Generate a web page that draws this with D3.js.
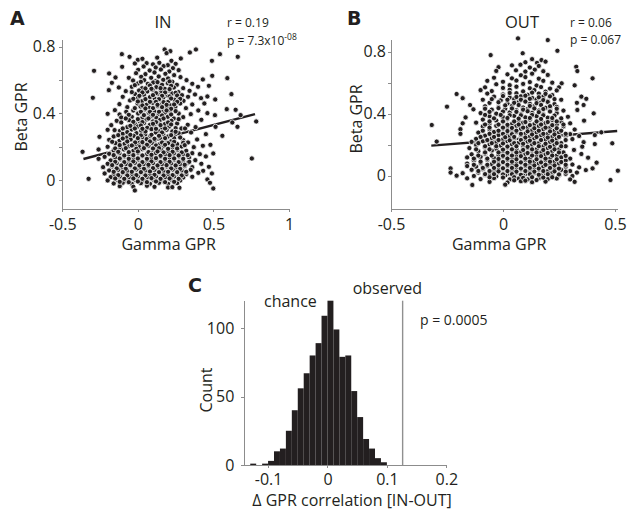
<!DOCTYPE html>
<html>
<head>
<meta charset="utf-8">
<script src="https://cdn.jsdelivr.net/npm/d3@7"></script>
<style>
  body { margin: 0; background: #fff; }
  text { font-family: "Open Sans", "Noto Sans", sans-serif; fill: #231f20; }
  .axis path, .axis line { stroke: #8c8c8c; stroke-width: 1; shape-rendering: crispEdges; }
  .axis text { font-size: 16px; }
</style>
</head>
<body>
<svg id="chart" width="627" height="511"></svg>
<script>
// gamma GPR vs beta GPR, attention IN
const inPoints = [
  [0.177,0.784],[0.215,0.774],[0.384,0.784],[0.344,0.766],[0.19,0.762],[-0.106,0.756],[0.543,0.756],[-0.055,0.74],[0.661,0.74],[0.128,0.735],[0.284,0.73],[0.49,0.716],[0.0,0.722],[0.03,0.728],[0.222,0.716],
  [-0.02,0.7],[0.058,0.702],[0.1,0.695],[0.142,0.704],[0.198,0.69],[0.25,0.698],
  [-0.104,0.68],[0.038,0.682],[0.118,0.676],[0.17,0.684],[0.232,0.672],
  [-0.29,0.656],[0.002,0.662],[0.078,0.658],[0.152,0.664],[0.208,0.652],[0.27,0.66],
  [-0.19,0.64],[-0.012,0.642],[0.05,0.636],[0.11,0.646],[0.182,0.638],[0.24,0.63],
  [-0.148,0.616],[-0.06,0.614],[0.022,0.62],[0.088,0.614],[0.138,0.622],[0.2,0.61],[0.282,0.618],[0.492,0.626],[0.592,0.612],
  [-0.032,0.598],[0.042,0.6],[0.118,0.594],[0.168,0.602],[0.228,0.59],[0.322,0.6],[0.43,0.604],
  [-0.172,0.584],[0.0,0.58],[0.066,0.578],[0.102,0.586],[0.148,0.574],[0.198,0.582],[0.258,0.572],[0.36,0.578],
  [-0.126,0.556],[-0.04,0.56],[0.028,0.552],[0.122,0.558],[0.178,0.548],[0.238,0.556],[0.3,0.552],[0.398,0.56],[0.47,0.566],
  [-0.192,0.54],[-0.08,0.534],[0.008,0.538],[0.062,0.532],[0.098,0.542],[0.152,0.53],[0.208,0.538],[0.268,0.528],[0.342,0.536],
  [-0.018,0.516],[0.04,0.512],[0.13,0.518],[0.186,0.508],[0.228,0.52],[0.292,0.51],[0.378,0.514],[0.619,0.516],
  [-0.298,0.494],[-0.1,0.5],[0.0,0.494],[0.08,0.498],[0.112,0.488],[0.168,0.496],[0.258,0.49],[0.332,0.5],[0.418,0.492],[0.46,0.502],
  [-0.052,0.478],[0.028,0.474],[0.142,0.48],[0.2,0.47],[0.242,0.482],[0.302,0.476],[0.512,0.484],
  [-0.122,0.456],[-0.002,0.46],[0.058,0.452],[0.098,0.464],[0.16,0.456],[0.218,0.448],[0.28,0.46],[0.36,0.454],[0.44,0.46],
  [-0.07,0.438],[0.018,0.442],[0.078,0.434],[0.128,0.444],[0.19,0.436],[0.248,0.44],[0.318,0.432],
  [-0.152,0.42],[-0.03,0.418],[0.048,0.424],[0.108,0.414],[0.162,0.422],[0.212,0.412],[0.4,0.418],[0.588,0.426],[0.647,0.422],
  [-0.2,0.398],[-0.121,0.394],[-0.077,0.41],[0.002,0.4],[0.072,0.404],[0.138,0.396],[0.182,0.406],[0.27,0.4],[0.35,0.396],[0.46,0.402],[0.51,0.39],[0.68,0.39],
  [-0.11,0.376],[-0.04,0.38],[0.028,0.372],[0.088,0.384],[0.122,0.374],[0.198,0.38],[0.238,0.37],[0.3,0.378],
  [-0.14,0.356],[-0.058,0.36],[0.012,0.354],[0.058,0.364],[0.1,0.352],[0.148,0.362],[0.222,0.356],[0.42,0.362],[0.625,0.346],[0.783,0.352],
  [-0.176,0.33],[-0.11,0.346],[-0.02,0.338],[0.04,0.342],[0.08,0.332],[0.13,0.344],[0.178,0.336],[0.26,0.34],[0.33,0.332],
  [-0.154,0.3],[-0.07,0.318],[0.0,0.322],[0.062,0.314],[0.108,0.326],[0.158,0.316],[0.208,0.322],[0.25,0.312],[0.288,0.31],[0.382,0.318],[0.514,0.32],[0.659,0.32],
  [-0.2,0.302],[-0.118,0.296],[-0.04,0.304],[0.022,0.296],[0.09,0.306],[0.138,0.294],[0.19,0.302],[0.228,0.292],[0.312,0.31],
  [-0.1,0.278],[-0.01,0.282],[0.048,0.274],[0.118,0.286],[0.168,0.276],[0.27,0.282],[0.352,0.286],[0.45,0.276],
  [-0.254,0.26],[-0.16,0.262],[-0.072,0.256],[-0.028,0.266],[0.03,0.258],[0.082,0.264],[0.148,0.254],[0.2,0.262],[0.24,0.252],[0.559,0.266],
  [-0.19,0.242],[-0.122,0.236],[-0.048,0.244],[0.0,0.236],[0.058,0.246],[0.11,0.238],[0.178,0.244],[0.218,0.232],[0.3,0.24],[0.392,0.244],
  [-0.148,0.222],[-0.088,0.218],[-0.018,0.226],[0.04,0.216],[0.092,0.224],[0.142,0.214],[0.2,0.222],[0.26,0.216],[0.332,0.226],[0.48,0.212],
  [-0.2,0.2],[-0.118,0.196],[-0.058,0.204],[0.01,0.198],[0.07,0.206],[0.12,0.194],[0.17,0.204],[0.228,0.196],[0.29,0.202],[0.37,0.198],[0.43,0.206],
  [-0.26,0.184],[-0.16,0.178],[-0.092,0.184],[-0.03,0.176],[0.03,0.186],[0.1,0.178],[0.152,0.184],[0.2,0.174],[0.262,0.182],[0.32,0.176],[0.499,0.16],
  [-0.366,0.17],
  [-0.19,0.158],[-0.122,0.162],[-0.06,0.154],[0.0,0.164],[0.06,0.156],[0.118,0.162],[0.18,0.152],[0.238,0.16],[0.298,0.154],[0.36,0.162],[0.41,0.156],
  [-0.22,0.14],[-0.15,0.136],[-0.088,0.142],[-0.028,0.134],[0.032,0.144],[0.09,0.136],[0.15,0.142],[0.21,0.134],[0.272,0.142],[0.338,0.136],[0.45,0.142],
  [-0.26,0.128],[0.754,0.13],
  [-0.18,0.118],[-0.118,0.124],[-0.06,0.116],[0.002,0.122],[0.06,0.114],[0.12,0.124],[0.18,0.116],[0.24,0.122],[0.3,0.114],[0.38,0.12],
  [-0.2,0.098],[-0.14,0.102],[-0.078,0.096],[-0.02,0.104],[0.04,0.096],[0.1,0.102],[0.16,0.094],[0.22,0.1],[0.28,0.096],[0.33,0.104],[0.42,0.098],
  [-0.23,0.078],[-0.17,0.082],[-0.108,0.076],[-0.048,0.084],[0.01,0.076],[0.07,0.084],[0.13,0.078],[0.19,0.082],[0.25,0.076],[0.31,0.084],[0.36,0.078],[0.47,0.08],
  [-0.19,0.058],[-0.13,0.062],[-0.07,0.056],[-0.01,0.064],[0.05,0.058],[0.11,0.062],[0.17,0.056],[0.23,0.064],[0.29,0.058],[0.35,0.062],[0.432,0.056],
  [-0.22,0.04],[-0.16,0.036],[-0.1,0.042],[-0.04,0.034],[0.02,0.042],[0.08,0.036],[0.14,0.042],[0.2,0.034],[0.26,0.04],[0.32,0.036],[0.4,0.044],[0.49,0.04],
  [-0.18,0.018],[-0.12,0.022],[-0.06,0.016],[0.0,0.022],[0.06,0.016],[0.12,0.022],[0.18,0.016],[0.24,0.022],[0.3,0.016],[0.36,0.02],
  [-0.326,0.008],[-0.2,-0.002],[-0.14,0.002],[-0.08,-0.004],[-0.02,0.002],[0.04,-0.002],[0.1,0.004],[0.16,-0.004],[0.22,0.002],[0.28,-0.002],[0.46,0.004],
  [-0.16,-0.02],[-0.1,-0.016],[-0.04,-0.022],[0.02,-0.018],[0.08,-0.022],[0.14,-0.016],[0.2,-0.022],[0.26,-0.018],[0.477,-0.016],
  [-0.12,-0.036],[-0.03,-0.04],[0.06,-0.034],[0.11,-0.04],[0.2,-0.044],[0.228,-0.042],[0.275,-0.046],[0.499,-0.05],
  [-0.02,-0.062],
  // packed core, lower lobe
  [-0.07,0.288],[0.05,0.292],[0.16,0.286],[0.25,0.29],
  [-0.13,0.27],[-0.05,0.272],[0.02,0.268],[0.09,0.272],[0.14,0.266],[0.22,0.27],
  [-0.1,0.25],[0.0,0.252],[0.11,0.248],[0.18,0.252],[0.28,0.256],
  [-0.17,0.23],[-0.07,0.232],[0.03,0.228],[0.08,0.232],[0.16,0.226],[0.24,0.23],[0.3,0.224],
  [-0.12,0.21],[-0.04,0.208],[0.06,0.212],[0.12,0.208],[0.18,0.212],[0.23,0.208],[0.31,0.21],
  [-0.15,0.19],[-0.08,0.192],[-0.01,0.188],[0.04,0.192],[0.1,0.19],[0.14,0.192],[0.2,0.188],[0.26,0.19],
  [-0.13,0.17],[-0.06,0.168],[0.0,0.172],[0.07,0.168],[0.13,0.172],[0.17,0.166],[0.23,0.17],[0.29,0.166],
  [-0.16,0.15],[-0.09,0.148],[-0.03,0.15],[0.03,0.148],[0.09,0.152],[0.15,0.146],[0.21,0.15],[0.27,0.148],[0.33,0.15],
  [-0.12,0.13],[-0.06,0.128],[0.0,0.13],[0.06,0.128],[0.12,0.132],[0.18,0.128],[0.24,0.13],[0.3,0.128],
  [-0.15,0.11],[-0.09,0.108],[-0.03,0.112],[0.03,0.108],[0.09,0.112],[0.15,0.108],[0.21,0.11],[0.27,0.108],[0.34,0.11],
  [-0.17,0.09],[-0.11,0.088],[-0.05,0.09],[0.01,0.088],[0.07,0.092],[0.13,0.088],[0.19,0.09],[0.25,0.088],[0.31,0.092],
  [-0.14,0.07],[-0.08,0.068],[-0.02,0.07],[0.04,0.068],[0.1,0.072],[0.16,0.068],[0.22,0.07],[0.28,0.068],
  [-0.16,0.05],[-0.1,0.048],[-0.04,0.05],[0.02,0.048],[0.08,0.052],[0.14,0.048],[0.2,0.05],[0.26,0.048],[0.32,0.05],
  [-0.13,0.03],[-0.07,0.028],[-0.01,0.03],[0.05,0.028],[0.11,0.032],[0.17,0.028],[0.23,0.03],[0.29,0.028],
  [-0.15,0.01],[-0.09,0.008],[-0.03,0.01],[0.03,0.008],[0.09,0.012],[0.15,0.008],[0.21,0.01],[0.27,0.008],
  [-0.12,-0.01],[-0.06,-0.012],[0.0,-0.008],[0.06,-0.012],[0.12,-0.008],[0.18,-0.012],[0.24,-0.01],
  // packed core, upper lobe
  [0.02,0.59],[0.13,0.588],[0.21,0.592],
  [-0.02,0.57],[0.08,0.568],[0.16,0.572],[0.22,0.566],
  [0.05,0.55],[0.09,0.548],[0.15,0.552],[0.21,0.546],
  [-0.04,0.528],[0.03,0.526],[0.12,0.522],[0.18,0.526],[0.25,0.524],
  [0.01,0.506],[0.1,0.51],[0.16,0.506],[0.21,0.502],[0.26,0.508],
  [-0.03,0.488],[0.05,0.486],[0.14,0.486],[0.22,0.49],[0.28,0.488],
  [0.0,0.472],[0.08,0.47],[0.12,0.47],[0.17,0.468],[0.26,0.47],
  [0.03,0.448],[0.13,0.452],[0.19,0.452],[0.24,0.454],
  [-0.02,0.432],[0.05,0.43],[0.1,0.432],[0.16,0.438],[0.22,0.428],
  [0.02,0.41],[0.08,0.41],[0.14,0.41],[0.19,0.418],[0.25,0.414],
  [-0.06,0.392],[0.04,0.39],[0.1,0.392],[0.16,0.388],[0.22,0.394],
  [-0.08,0.37],[0.0,0.366],[0.07,0.37],[0.17,0.37],[0.27,0.366],
  [-0.03,0.35],[0.03,0.348],[0.12,0.348],[0.2,0.346],
  [-0.05,0.326],[0.02,0.328],[0.1,0.338],[0.15,0.33],[0.22,0.334],
  [-0.1,0.31],[-0.02,0.31],[0.03,0.308],[0.12,0.308],[0.18,0.31]
]

// gamma GPR vs beta GPR, attention OUT
const outPoints = [
  [0.067,0.886],[0.2,0.875],[0.243,0.806],[0.088,0.79],[-0.055,0.778],
  [0.13,0.752],[0.172,0.746],[0.1,0.732],[0.152,0.728],[0.19,0.736],
  [0.04,0.712],[0.078,0.716],[0.16,0.708],[0.327,0.703],[-0.02,0.7],[0.12,0.698],
  [0.332,0.675],[-0.03,0.676],[0.058,0.68],[0.1,0.672],[0.142,0.684],[0.18,0.674],
  [0.02,0.654],[0.08,0.648],[0.13,0.658],[0.2,0.65],
  [-0.04,0.632],[0.04,0.628],[0.1,0.636],[0.16,0.626],[0.4,0.628],
  [-0.07,0.612],[0.0,0.606],[0.06,0.614],[0.12,0.604],[0.18,0.612],[0.22,0.6],
  [-0.03,0.59],[0.03,0.584],[0.09,0.592],[0.15,0.582],[0.32,0.583],[0.262,0.596],
  [-0.08,0.57],[0.0,0.566],[0.06,0.574],[0.12,0.564],[0.17,0.572],[0.21,0.562],[0.25,0.57],
  [-0.1,0.552],[-0.05,0.546],[0.03,0.554],[0.09,0.544],[0.14,0.552],[0.19,0.542],[0.24,0.55],
  [-0.207,0.527],[-0.07,0.53],[0.0,0.524],[0.06,0.532],[0.11,0.522],[0.16,0.53],[0.22,0.52],
  [-0.04,0.51],[0.03,0.504],[0.08,0.512],[0.13,0.502],[0.18,0.51],[0.35,0.51],[0.372,0.496],
  [-0.18,0.5],
  [-0.09,0.49],[-0.01,0.486],[0.05,0.494],[0.1,0.484],[0.15,0.492],[0.2,0.482],[0.26,0.49],
  [-0.06,0.47],[0.02,0.466],[0.07,0.474],[0.12,0.464],[0.17,0.472],[0.23,0.462],[0.33,0.47],
  [-0.147,0.456],[0.36,0.456],
  [-0.25,0.445],[-0.08,0.448],[-0.02,0.442],[0.04,0.45],[0.09,0.44],[0.14,0.448],[0.19,0.438],[0.24,0.444],
  [-0.132,0.428],[-0.05,0.426],[0.01,0.432],[0.06,0.422],[0.11,0.43],[0.16,0.42],[0.21,0.428],[0.27,0.42],[0.332,0.424],
  [-0.1,0.404],[-0.03,0.4],[0.03,0.408],[0.08,0.398],[0.13,0.406],[0.18,0.396],[0.24,0.404],[0.405,0.402],
  [-0.167,0.376],[-0.06,0.384],[0.0,0.378],[0.05,0.386],[0.1,0.376],[0.15,0.384],[0.2,0.374],[0.29,0.38],
  [-0.09,0.362],[-0.03,0.356],[0.02,0.364],[0.07,0.354],[0.12,0.362],[0.17,0.352],[0.22,0.36],[0.26,0.35],[0.362,0.355],
  [-0.18,0.338],[-0.12,0.342],[-0.06,0.336],[0.0,0.344],[0.04,0.334],[0.09,0.342],[0.14,0.332],[0.19,0.34],[0.24,0.33],[0.3,0.338],
  [-0.318,0.327],
  [-0.09,0.318],[-0.03,0.322],[0.02,0.314],[0.06,0.322],[0.11,0.312],[0.16,0.32],[0.21,0.31],[0.27,0.318],
  [-0.19,0.3],[-0.06,0.298],[0.0,0.304],[0.04,0.294],[0.08,0.302],[0.13,0.292],[0.18,0.3],[0.23,0.29],[0.32,0.298],
  [-0.11,0.278],[-0.04,0.282],[0.02,0.274],[0.06,0.282],[0.1,0.272],[0.15,0.28],[0.2,0.27],[0.25,0.278],[0.3,0.268],[0.439,0.28],
  [-0.19,0.27],
  [-0.08,0.258],[-0.02,0.262],[0.03,0.254],[0.08,0.262],[0.12,0.252],[0.17,0.26],[0.22,0.25],[0.28,0.258],[0.34,0.256],[0.41,0.262],
  [-0.12,0.238],[-0.05,0.242],[0.0,0.234],[0.05,0.242],[0.1,0.232],[0.14,0.24],[0.19,0.23],[0.24,0.238],[0.31,0.236],
  [-0.296,0.22],[-0.14,0.218],[-0.09,0.222],[-0.03,0.214],[0.02,0.222],[0.07,0.212],[0.11,0.22],[0.16,0.21],[0.21,0.218],[0.26,0.21],[0.36,0.216],
  [-0.12,0.198],[-0.06,0.202],[-0.01,0.194],[0.04,0.202],[0.09,0.192],[0.13,0.2],[0.18,0.19],[0.23,0.198],[0.28,0.19],[0.41,0.204],[0.488,0.209],
  [-0.15,0.178],[-0.08,0.182],[-0.03,0.174],[0.02,0.182],[0.06,0.172],[0.11,0.18],[0.15,0.17],[0.2,0.178],[0.25,0.17],[0.354,0.187],
  [-0.11,0.158],[-0.05,0.162],[0.0,0.154],[0.04,0.162],[0.08,0.152],[0.13,0.16],[0.17,0.15],[0.22,0.158],[0.27,0.15],[0.317,0.166],
  [-0.14,0.138],[-0.08,0.142],[-0.02,0.134],[0.02,0.142],[0.06,0.132],[0.1,0.14],[0.15,0.13],[0.19,0.138],[0.24,0.13],[0.35,0.14],
  [-0.16,0.118],[-0.1,0.122],[-0.04,0.114],[0.0,0.122],[0.04,0.112],[0.08,0.12],[0.12,0.11],[0.17,0.118],[0.21,0.11],[0.26,0.118],[0.3,0.11],[0.38,0.116],
  [-0.13,0.098],[-0.07,0.102],[-0.02,0.094],[0.02,0.102],[0.06,0.092],[0.1,0.1],[0.14,0.09],[0.19,0.098],[0.23,0.09],[0.28,0.098],
  [-0.16,0.078],[-0.1,0.082],[-0.05,0.074],[0.0,0.082],[0.04,0.072],[0.08,0.08],[0.12,0.07],[0.16,0.078],[0.21,0.07],[0.25,0.078],[0.31,0.072],[0.418,0.084],
  [-0.12,0.058],[-0.07,0.062],[-0.02,0.054],[0.02,0.062],[0.06,0.052],[0.1,0.06],[0.14,0.05],[0.18,0.058],[0.23,0.05],[0.28,0.058],[0.34,0.054],
  [-0.234,0.047],[-0.16,0.062],[0.4,0.047],
  [-0.14,0.038],[-0.09,0.042],[-0.04,0.034],[0.0,0.042],[0.04,0.032],[0.08,0.04],[0.12,0.03],[0.16,0.038],[0.2,0.03],[0.26,0.038],[0.3,0.03],[0.37,0.036],[0.513,0.032],
  [-0.234,0.02],[-0.18,0.016],[-0.11,0.02],[-0.06,0.014],[-0.02,0.022],[0.02,0.012],[0.06,0.02],[0.1,0.01],[0.14,0.018],[0.18,0.01],[0.22,0.018],[0.28,0.012],[0.33,0.02],
  [-0.207,0.0],[-0.13,-0.002],[-0.08,0.004],[-0.03,-0.004],[0.01,0.002],[0.05,-0.006],[0.09,0.002],[0.13,-0.004],[0.17,0.004],[0.21,-0.004],[0.25,0.002],[0.31,-0.002],
  [-0.16,-0.017],[-0.1,-0.022],[-0.04,-0.016],[0.03,-0.024],[0.07,-0.018],[0.11,-0.024],[0.16,-0.016],[0.2,-0.022],[0.24,-0.018],[0.3,-0.024],[0.48,-0.028],
  [-0.06,-0.04],[0.02,-0.044],[0.08,-0.036],[0.13,-0.042],[0.19,-0.038],[0.32,-0.04],
  [-0.137,-0.06],[0.01,-0.058],
  // packed core
  [0.03,0.534],[0.13,0.536],[0.19,0.528],
  [0.0,0.514],[0.06,0.508],[0.1,0.516],[0.16,0.506],[0.21,0.512],
  [-0.05,0.494],[0.02,0.49],[0.08,0.49],[0.12,0.496],[0.18,0.488],[0.23,0.494],
  [-0.02,0.474],[0.05,0.47],[0.1,0.478],[0.15,0.468],[0.2,0.476],
  [0.01,0.454],[0.07,0.456],[0.12,0.45],[0.17,0.456],[0.21,0.448],
  [-0.08,0.432],[-0.02,0.436],[0.04,0.434],[0.09,0.426],[0.14,0.434],[0.18,0.43],[0.24,0.432],
  [-0.06,0.412],[0.0,0.414],[0.06,0.412],[0.11,0.416],[0.16,0.41],[0.21,0.414],
  [-0.08,0.392],[-0.01,0.392],[0.03,0.39],[0.08,0.39],[0.13,0.392],[0.18,0.39],[0.23,0.388],
  [-0.04,0.37],[0.02,0.372],[0.07,0.368],[0.12,0.372],[0.17,0.366],[0.22,0.372],[0.26,0.37],
  [-0.06,0.35],[0.0,0.35],[0.05,0.35],[0.1,0.346],[0.15,0.35],[0.2,0.346],[0.24,0.35],
  [-0.08,0.33],[-0.02,0.33],[0.02,0.328],[0.07,0.33],[0.12,0.326],[0.17,0.33],[0.22,0.326],[0.27,0.33],
  [-0.06,0.31],[0.0,0.31],[0.04,0.308],[0.09,0.31],[0.14,0.306],[0.19,0.31],[0.24,0.306],
  [-0.09,0.29],[-0.02,0.29],[0.02,0.288],[0.06,0.29],[0.11,0.286],[0.16,0.29],[0.21,0.286],[0.26,0.29],
  [-0.06,0.27],[0.0,0.27],[0.04,0.268],[0.08,0.27],[0.13,0.266],[0.18,0.27],[0.23,0.266],[0.28,0.27],
  [-0.1,0.25],[-0.04,0.25],[0.01,0.248],[0.05,0.25],[0.1,0.246],[0.15,0.25],[0.2,0.246],[0.25,0.25],
  [-0.07,0.23],[-0.02,0.23],[0.03,0.228],[0.08,0.23],[0.12,0.226],[0.17,0.23],[0.22,0.226],[0.28,0.23],
  [-0.11,0.21],[-0.05,0.21],[0.0,0.208],[0.05,0.21],[0.09,0.206],[0.14,0.21],[0.19,0.206],[0.24,0.21],
  [-0.08,0.19],[-0.03,0.19],[0.02,0.188],[0.06,0.19],[0.11,0.186],[0.16,0.19],[0.21,0.186],[0.26,0.19],
  [-0.12,0.17],[-0.06,0.17],[0.0,0.168],[0.04,0.17],[0.09,0.166],[0.13,0.17],[0.18,0.166],[0.23,0.17],
  [-0.08,0.15],[-0.02,0.15],[0.02,0.148],[0.06,0.15],[0.11,0.146],[0.15,0.15],[0.2,0.146],[0.25,0.15],
  [-0.11,0.13],[-0.05,0.13],[0.0,0.128],[0.04,0.13],[0.08,0.126],[0.13,0.13],[0.17,0.126],[0.22,0.13],[0.28,0.128],
  [-0.13,0.11],[-0.07,0.11],[-0.02,0.108],[0.02,0.11],[0.06,0.106],[0.1,0.11],[0.15,0.106],[0.19,0.11],[0.24,0.106],
  [-0.1,0.09],[-0.04,0.09],[0.0,0.088],[0.04,0.09],[0.08,0.086],[0.12,0.09],[0.17,0.086],[0.21,0.09],[0.26,0.088],
  [-0.13,0.07],[-0.07,0.07],[-0.02,0.068],[0.02,0.07],[0.06,0.066],[0.1,0.07],[0.14,0.066],[0.19,0.07],[0.23,0.066],[0.28,0.07],
  [-0.09,0.05],[-0.04,0.05],[0.0,0.048],[0.04,0.05],[0.08,0.046],[0.12,0.05],[0.16,0.046],[0.21,0.05],[0.25,0.046],
  [-0.11,0.03],[-0.06,0.03],[-0.02,0.028],[0.02,0.03],[0.06,0.026],[0.1,0.03],[0.14,0.026],[0.18,0.03],[0.23,0.028],[0.28,0.026],
  [-0.08,0.01],[-0.04,0.01],[0.0,0.008],[0.04,0.01],[0.08,0.006],[0.12,0.01],[0.16,0.006],[0.2,0.01],[0.25,0.008],
  [-0.06,-0.01],[0.0,-0.012],[0.05,-0.01],[0.09,-0.014],[0.13,-0.01],[0.18,-0.012],[0.22,-0.01],
  [0.05,-0.03],[0.1,-0.032],[0.15,-0.028]
]

// regression line end points
const inFit = [[-0.36, 0.127], [0.775, 0.396]]
const outFit = [[-0.32, 0.194], [0.51, 0.288]]

// shuffled distribution of the IN-OUT correlation difference
const binStarts = [-0.13,-0.12,-0.11,-0.10,-0.09,-0.08,-0.07,-0.06,-0.05,-0.04,-0.03,-0.02,-0.01,0.00,0.01,0.02,0.03,0.04,0.05,0.06,0.07,0.08,0.09]
const binCounts = [1,0,1,3,10,12,25,40,56,67,80,89,109,120,99,79,80,54,35,19,12,5,2]
const binWidth = 0.01
const observed = 0.1265

const svg = d3.select('#chart')
const ink = '#231f20'

function plain(d) { return String(d) }

function scatterPanel(opt) {
  const x = d3.scaleLinear().domain(opt.xDomain).range([opt.left, opt.right])
  const y = d3.scaleLinear().domain(opt.yDomain).range([opt.bottom, opt.top])
  const g = svg.append('g')

  g.append('g').attr('class', 'axis')
    .attr('transform', `translate(0,${opt.bottom})`)
    .call(d3.axisBottom(x).tickValues(opt.xTicks).tickSize(3).tickSizeOuter(0).tickPadding(6).tickFormat(plain))
  g.append('g').attr('class', 'axis')
    .attr('transform', `translate(${opt.left},0)`)
    .call(d3.axisLeft(y).tickValues([0, 0.2, 0.4, 0.6, 0.8]).tickSize(3).tickSizeOuter(0).tickPadding(opt.yPad)
      .tickFormat(d => [0, 0.4, 0.8].includes(d) ? plain(d) : ''))

  // fit line sits under the dots
  g.append('path')
    .datum(opt.fit)
    .attr('d', d3.line().x(d => x(d[0])).y(d => y(d[1])))
    .attr('fill', 'none').attr('stroke', ink).attr('stroke-width', 2.4)

  g.append('g').selectAll('circle')
    .data(opt.points)
    .join('circle')
    .attr('cx', d => x(d[0]))
    .attr('cy', d => y(d[1]))
    .attr('r', 2.6)
    .attr('fill', ink)
    .attr('stroke', '#fff')
    .attr('stroke-width', 0.8)

  g.append('text').attr('x', (opt.left + opt.right) / 2 + opt.xLabelShift).attr('y', 250)
    .attr('text-anchor', 'middle').attr('font-size', 16).text('Gamma GPR')
  g.append('text').attr('transform', `translate(${opt.yLabelX},${opt.yLabelY}) rotate(-90)`)
    .attr('text-anchor', 'middle').attr('font-size', 16).text('Beta GPR')
}

scatterPanel({
  xDomain: [-0.5, 1], yDomain: [-0.175, 0.845],
  left: 62.3, right: 289, top: 39.3, bottom: 209.3,
  xTicks: [-0.5, 0, 0.5, 1], yPad: 4,
  points: inPoints, fit: inFit,
  xLabelShift: -7, yLabelX: 27, yLabelY: 117
})
scatterPanel({
  xDomain: [-0.5, 0.51], yDomain: [-0.217, 0.88],
  left: 391, right: 617.2, top: 39.3, bottom: 209.3,
  xTicks: [-0.5, 0, 0.5], yPad: 2,
  points: outPoints, fit: outFit,
  xLabelShift: -5, yLabelX: 362, yLabelY: 119
})

// panel C histogram
const xc = d3.scaleLinear().domain([-0.14, 0.2]).range([244.3, 446.3])
const yc = d3.scaleLinear().domain([0, 120]).range([465, 300.7])
const gc = svg.append('g')

gc.append('g').selectAll('rect')
  .data(binStarts.map((b, i) => ({ x0: b, n: binCounts[i] })))
  .join('rect')
  .attr('x', d => xc(d.x0))
  .attr('width', d => xc(d.x0 + binWidth) - xc(d.x0))
  .attr('y', d => yc(d.n))
  .attr('height', d => yc(0) - yc(d.n))
  .attr('fill', ink)

gc.append('line')
  .attr('x1', xc(observed)).attr('x2', xc(observed))
  .attr('y1', yc(120)).attr('y2', yc(0))
  .attr('stroke', '#909090').attr('stroke-width', 1.4)

gc.append('g').attr('class', 'axis')
  .attr('transform', `translate(0,${yc(0)})`)
  .call(d3.axisBottom(xc).tickValues([-0.1, 0, 0.1, 0.2]).tickSize(3).tickSizeOuter(0).tickPadding(6).tickFormat(plain))
gc.append('g').attr('class', 'axis')
  .attr('transform', `translate(${xc(-0.14)},0)`)
  .call(d3.axisLeft(yc).tickValues([0, 50, 100]).tickSize(3).tickSizeOuter(0).tickPadding(7).tickFormat(plain))

gc.append('text').attr('transform', 'translate(212,390) rotate(-90)')
  .attr('text-anchor', 'middle').attr('font-size', 16).text('Count')
gc.append('text').attr('x', 352).attr('y', 506)
  .attr('text-anchor', 'middle').attr('font-size', 16).text('\u0394 GPR correlation [IN-OUT]')
gc.append('text').attr('x', 264).attr('y', 307).attr('font-size', 16).text('chance')
gc.append('text').attr('x', 352.7).attr('y', 294).attr('font-size', 16).text('observed')
gc.append('text').attr('x', 420).attr('y', 325).attr('font-size', 14).text('p = 0.0005')

// titles and stats
const labels = svg.append('g')
labels.append('text').attr('x', 163).attr('y', 28).attr('text-anchor', 'middle').attr('font-size', 16.5).text('IN')
labels.append('text').attr('x', 522).attr('y', 28).attr('text-anchor', 'middle').attr('font-size', 16.5).text('OUT')
labels.append('text').attr('x', 227).attr('y', 27).attr('font-size', 12).text('r = 0.19')
const pIn = labels.append('text').attr('x', 227).attr('y', 45).attr('font-size', 12)
pIn.append('tspan').text('p = 7.3x10')
pIn.append('tspan').attr('dy', -5).attr('font-size', 8.5).text('-08')
labels.append('text').attr('x', 570).attr('y', 26.5).attr('font-size', 12).text('r = 0.06')
labels.append('text').attr('x', 570).attr('y', 43.5).attr('font-size', 12).text('p = 0.067')

const letters = [['A', 10, 25], ['B', 347, 25], ['C', 188, 292]]
letters.forEach(l => {
  labels.append('text').attr('x', l[1]).attr('y', l[2])
    .attr('font-weight', 'bold').attr('font-size', 19)
    .style('font-family', '"DejaVu Sans", sans-serif').text(l[0])
})
</script>
</body>
</html>
